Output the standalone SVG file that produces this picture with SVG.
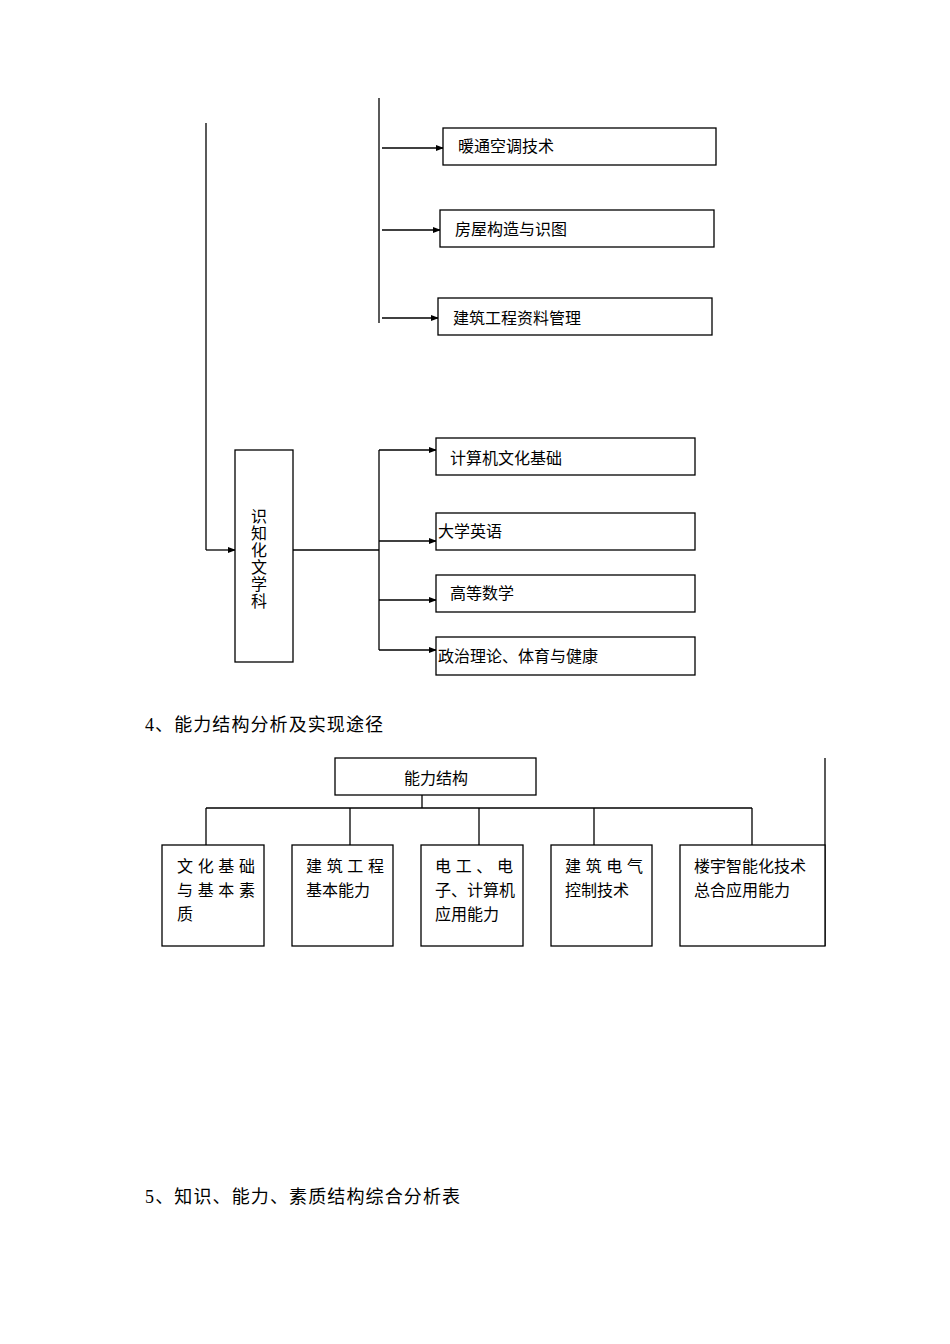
<svg xmlns="http://www.w3.org/2000/svg" width="950" height="1344" viewBox="0 0 950 1344">
<style>
.b{fill:#fff;stroke:#000;stroke-width:1.3}
.l{stroke:#000;stroke-width:1.3;fill:none}
text{font-family:"Liberation Serif","Noto Sans CJK SC",serif;font-size:16px;fill:#000}
.h{font-size:18px}
</style>
<defs><marker id="a" markerWidth="8" markerHeight="8" refX="7" refY="4" orient="auto" markerUnits="userSpaceOnUse"><path d="M0,1L8,4L0,7z" fill="#000"/></marker></defs>
<rect width="950" height="1344" fill="#fff"/>
<g id="connectors">
<line class="l" x1="206" y1="123" x2="206" y2="550"/>
<line class="l" x1="206" y1="550" x2="235" y2="550" marker-end="url(#a)"/>
<line class="l" x1="379" y1="98" x2="379" y2="323"/>
<line class="l" x1="382" y1="148" x2="443" y2="148" marker-end="url(#a)"/>
<line class="l" x1="382" y1="230" x2="440" y2="230" marker-end="url(#a)"/>
<line class="l" x1="382" y1="318" x2="438" y2="318" marker-end="url(#a)"/>
<line class="l" x1="293" y1="550" x2="379" y2="550"/>
<line class="l" x1="379" y1="450" x2="379" y2="650"/>
<line class="l" x1="379" y1="450" x2="436" y2="450" marker-end="url(#a)"/>
<line class="l" x1="379" y1="541" x2="436" y2="541" marker-end="url(#a)"/>
<line class="l" x1="379" y1="600" x2="436" y2="600" marker-end="url(#a)"/>
<line class="l" x1="379" y1="650" x2="436" y2="650" marker-end="url(#a)"/>
<line class="l" x1="422" y1="795" x2="422" y2="808"/>
<line class="l" x1="206" y1="808" x2="752" y2="808"/>
<line class="l" x1="206" y1="808" x2="206" y2="845"/>
<line class="l" x1="350" y1="808" x2="350" y2="845"/>
<line class="l" x1="479" y1="808" x2="479" y2="845"/>
<line class="l" x1="594" y1="808" x2="594" y2="845"/>
<line class="l" x1="752" y1="808" x2="752" y2="845"/>
<line class="l" x1="825" y1="758" x2="825" y2="946"/>
</g>
<g id="n1"><rect class="b" x="443" y="128" width="273" height="37"/><text x="458" y="152">暖通空调技术</text></g>
<g id="n2"><rect class="b" x="440" y="210" width="274" height="37"/><text x="455" y="235">房屋构造与识图</text></g>
<g id="n3"><rect class="b" x="438" y="298" width="274" height="37"/><text x="453" y="324">建筑工程资料管理</text></g>
<g id="n4"><rect class="b" x="235" y="450" width="58" height="212"/>
<text x="259" y="522" text-anchor="middle">识</text><text x="259" y="539" text-anchor="middle">知</text><text x="259" y="556" text-anchor="middle">化</text><text x="259" y="573" text-anchor="middle">文</text><text x="259" y="590" text-anchor="middle">学</text><text x="259" y="607" text-anchor="middle">科</text></g>
<g id="n5"><rect class="b" x="436" y="438" width="259" height="37"/><text x="450" y="464">计算机文化基础</text></g>
<g id="n6"><rect class="b" x="436" y="513" width="259" height="37"/><text x="438" y="537">大学英语</text></g>
<g id="n7"><rect class="b" x="436" y="575" width="259" height="37"/><text x="450" y="599">高等数学</text></g>
<g id="n8"><rect class="b" x="436" y="637" width="259" height="38"/><text x="438" y="662">政治理论、体育与健康</text></g>
<text class="h" x="145" y="731" textLength="238">4、能力结构分析及实现途径</text>
<g id="n9"><rect class="b" x="335" y="758" width="201" height="37"/><text x="436" y="784" text-anchor="middle">能力结构</text></g>
<g id="n10"><rect class="b" x="162" y="845" width="102" height="101"/><text x="177" y="872" textLength="78">文化基础</text><text x="177" y="896" textLength="78">与基本素</text><text x="177" y="920">质</text></g>
<g id="n11"><rect class="b" x="292" y="845" width="101" height="101"/><text x="306" y="872" textLength="78">建筑工程</text><text x="306" y="896">基本能力</text></g>
<g id="n12"><rect class="b" x="421" y="845" width="102" height="101"/><text x="435" y="872" textLength="78">电工、电</text><text x="435" y="896">子、计算机</text><text x="435" y="920">应用能力</text></g>
<g id="n13"><rect class="b" x="551" y="845" width="101" height="101"/><text x="565" y="872" textLength="78">建筑电气</text><text x="565" y="896">控制技术</text></g>
<g id="n14"><rect class="b" x="680" y="845" width="145" height="101"/><text x="694" y="872">楼宇智能化技术</text><text x="694" y="896">总合应用能力</text></g>
<text class="h" x="145" y="1203" textLength="315">5、知识、能力、素质结构综合分析表</text>
</svg>
